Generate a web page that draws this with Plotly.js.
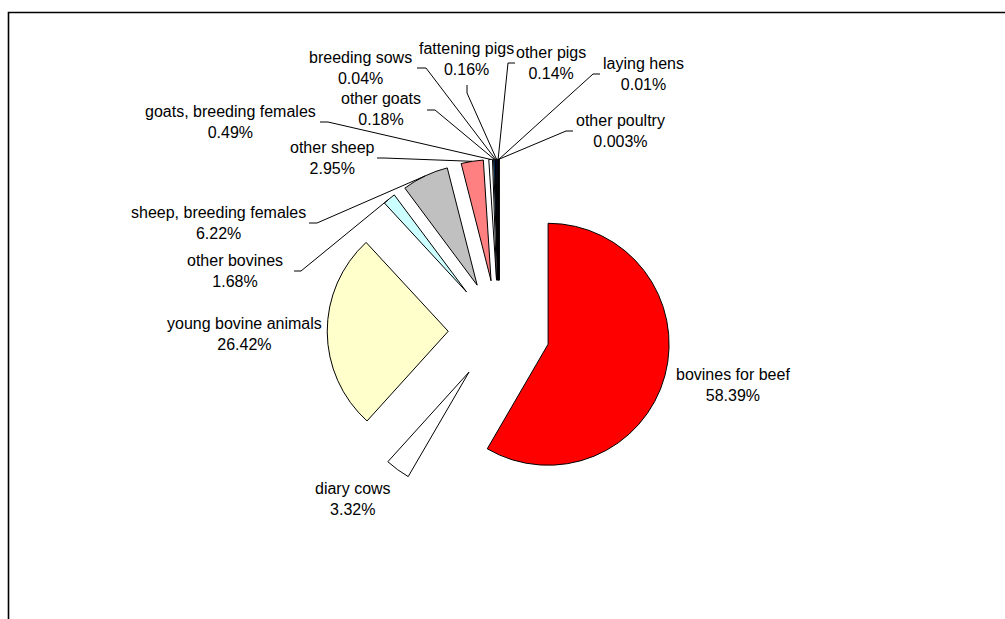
<!DOCTYPE html>
<html>
<head>
<meta charset="utf-8">
<script src="https://cdn.plot.ly/plotly-3.0.1.min.js"></script>
<style>
html,body{margin:0;padding:0;background:#ffffff;}
#chart{width:1005px;height:619px;}
</style>
</head>
<body>
<div id="chart"></div>
<script>
// ---- data ----
const categories = ["bovines for beef", "diary cows", "young bovine animals", "other bovines",
  "sheep, breeding females", "other sheep", "goats, breeding females", "other goats",
  "breeding sows", "fattening pigs", "other pigs", "laying hens", "other poultry"];
const shares = [58.39, 3.32, 26.42, 1.68, 6.22, 2.95, 0.49, 0.18, 0.04, 0.16, 0.14, 0.01, 0.003];
const shareLabels = ["58.39%", "3.32%", "26.42%", "1.68%", "6.22%", "2.95%", "0.49%", "0.18%",
  "0.04%", "0.16%", "0.14%", "0.01%", "0.003%"];

// ---- styling / layout ----
const sliceColors = ["#FF0000", "#FFFFFF", "#FFFFCC", "#CCFFFF", "#C0C0C0", "#FF8080", "#FFFFFF",
  "#0066CC", "#CCCCFF", "#000080", "#000000", "#000000", "#000000"];
const W = 1005, H = 619;
const PULL = 0.42;
// label centre (px) and leader stub (px) for each slice
const labelPlacement = [
  {x: 733, y: 385, stub: null},
  {x: 353, y: 499, stub: null},
  {x: 244, y: 334, stub: null},
  {x: 235, y: 271, stub: [[294, 271], [301, 271]]},
  {x: 218, y: 223, stub: [[309, 223], [317, 223]]},
  {x: 332, y: 158, stub: [[377, 158], [384, 158]]},
  {x: 230, y: 122, stub: [[320, 122], [328, 122]]},
  {x: 381, y: 109, stub: [[427, 110], [435, 110]]},
  {x: 360, y: 68,  stub: [[417, 68], [426, 68]]},
  {x: 466, y: 59,  stub: [[467, 85], [467, 93]]},
  {x: 551, y: 63,  stub: [[515, 63], [508, 63]]},
  {x: 643, y: 74,  stub: [[600, 74], [593, 74]]},
  {x: 620, y: 131, stub: [[573, 131], [566, 131]]}
];
const FONT = {family: "'Liberation Sans', Arial, sans-serif", size: 16, color: "#000000"};

const px = x => x / W;
const py = y => 1 - y / H;

const annotations = categories.map((c, i) => ({
  xref: "paper", yref: "paper",
  x: px(labelPlacement[i].x), y: py(labelPlacement[i].y),
  xanchor: "center", yanchor: "middle",
  text: c + "<br>" + shareLabels[i],
  showarrow: false, font: FONT
}));

const frame = {
  type: "path", xref: "paper", yref: "paper",
  path: `M ${px(8.5)} ${py(H + 5)} L ${px(8.5)} ${py(12.5)} L ${px(W + 5)} ${py(12.5)}`,
  line: {color: "#000000", width: 1.6}
};

const trace = {
  type: "pie",
  labels: categories,
  values: shares,
  sort: false,
  direction: "clockwise",
  rotation: 0,
  pull: categories.map(() => PULL),
  textinfo: "none",
  hoverinfo: "label+percent",
  marker: {colors: sliceColors, line: {color: "#000000", width: 1}},
  domain: {x: [0.3256, 0.6675], y: [0.1877, 0.7428]},
  showlegend: false
};

const layout = {
  width: W, height: H,
  margin: {l: 0, r: 0, t: 0, b: 0},
  paper_bgcolor: "#ffffff",
  plot_bgcolor: "#ffffff",
  showlegend: false,
  font: FONT,
  annotations: annotations,
  shapes: [frame]
};

Plotly.newPlot("chart", [trace], layout, {displayModeBar: false, staticPlot: true}).then(gd => {
  const cd = gd.calcdata[0];
  const cd0 = cd[0];
  const leaders = [];
  cd.forEach((pt, i) => {
    const lp = labelPlacement[i];
    if (!lp.stub || !pt.pxmid) return;
    const ex = cd0.cx + (1 + PULL) * pt.pxmid[0];
    const ey = cd0.cy + (1 + PULL) * pt.pxmid[1];
    const s = lp.stub;
    leaders.push({
      type: "path", xref: "paper", yref: "paper",
      path: `M ${px(s[0][0])} ${py(s[0][1])} L ${px(s[1][0])} ${py(s[1][1])} L ${px(ex)} ${py(ey)}`,
      line: {color: "#000000", width: 1}
    });
  });
  return Plotly.relayout(gd, {shapes: [frame].concat(leaders)});
});
</script>
</body>
</html>
